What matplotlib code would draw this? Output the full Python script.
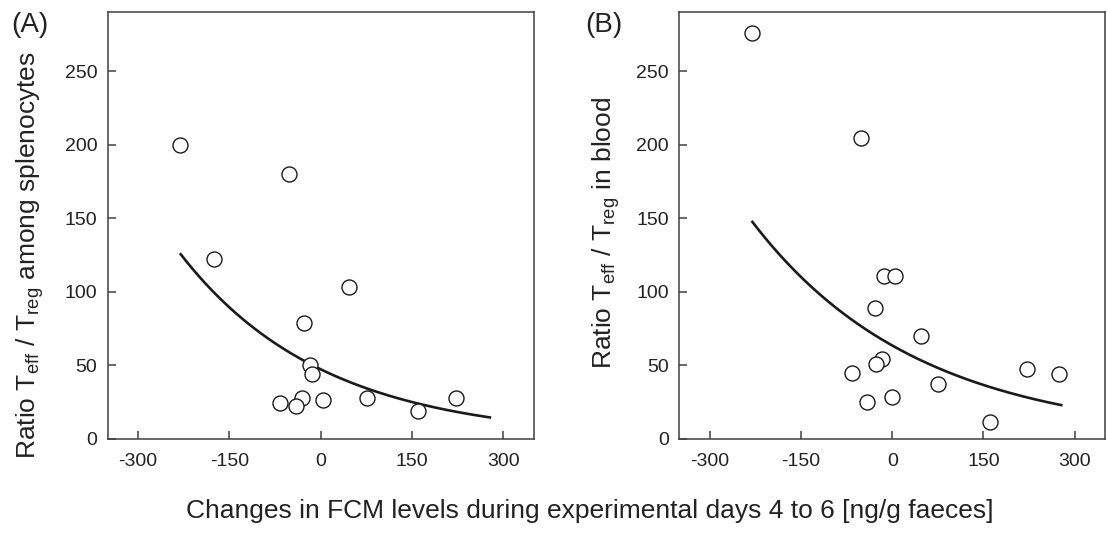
import numpy as np
import matplotlib
matplotlib.use("Agg")
import matplotlib.pyplot as plt

plt.rcParams['font.family'] = ['Liberation Sans', 'DejaVu Sans']
plt.rcParams['mathtext.default'] = 'regular'

# panel A: splenocytes
spleen_x = [-231, -52, -175, 47, -28, -17, -14, -67, -30, -40, 3.5, 76, 160, 222]
spleen_y = [200, 180, 122, 103, 79, 50, 44, 24, 28, 22, 26, 27.5, 19, 28]

# panel B: blood
blood_x = [-231, -51, -14, 5, -29, 47, -17, -27, -67, -41, 0, 76, 161, 222, 275]
blood_y = [276, 204.5, 111, 110.5, 89, 70, 54, 51, 45, 25, 28.5, 37.5, 11.5, 47.5, 44]

# fitted exponential decay y = a * exp(b * x)
spleen_fit = (47.2, -0.00425)
blood_fit = (63.4, -0.00367)
fit_range = (-230, 278)

xticks = [-300, -150, 0, 150, 300]
yticks = [0, 50, 100, 150, 200, 250]

ink = '#222222'
W, H = 1107, 536

fig = plt.figure(figsize=(11.07, 5.36), dpi=100)
axA = fig.add_axes([0.0973, 0.1815, 0.3848, 0.7955])
axB = fig.add_axes([0.6138, 0.1815, 0.3844, 0.7955])


def draw(ax, xs, ys, fit):
    xx = np.linspace(fit_range[0], fit_range[1], 200)
    ax.plot(xx, fit[0] * np.exp(fit[1] * xx), color='#1a1a1a', lw=1.9, zorder=2)
    ax.plot(xs, ys, 'o', ms=10.8, mfc='white', mec='#1a1a1a', mew=1.0, zorder=3)
    ax.set_xlim(-350, 350)
    ax.set_ylim(0, 290)
    ax.set_xticks(xticks)
    ax.set_xticklabels([str(t) for t in xticks])
    ax.set_yticks(yticks)
    for s in ax.spines.values():
        s.set_color('#404040')
        s.set_linewidth(1.1)
    ax.tick_params(direction='in', length=5.5, width=1.1, color='#404040',
                   labelsize=14, labelcolor=ink)
    ax.tick_params(axis='x', pad=10)
    ax.tick_params(axis='y', pad=7.5)


draw(axA, spleen_x, spleen_y, spleen_fit)
draw(axB, blood_x, blood_y, blood_fit)

fig.text(36 / W, 1 - 255 / H,
         'Ratio T$_{eff}$ / T$_{reg}$ among splenocytes',
         rotation=90, rotation_mode='anchor', ha='center', va='baseline',
         fontsize=19, color=ink)
fig.text(612 / W, 1 - 233 / H,
         'Ratio T$_{eff}$ / T$_{reg}$ in blood',
         rotation=90, rotation_mode='anchor', ha='center', va='baseline',
         fontsize=19, color=ink)

fig.text(590 / W, 1 - 518 / H,
         'Changes in FCM levels during experimental days 4 to 6 [ng/g faeces]',
         ha='center', va='baseline', fontsize=19, color=ink)

fig.text(11 / W, 1 - 25 / H, '(A)', ha='left', va='center', fontsize=20, color=ink)
fig.text(585 / W, 1 - 25 / H, '(B)', ha='left', va='center', fontsize=20, color=ink)

fig.savefig('out.png', dpi=100)
